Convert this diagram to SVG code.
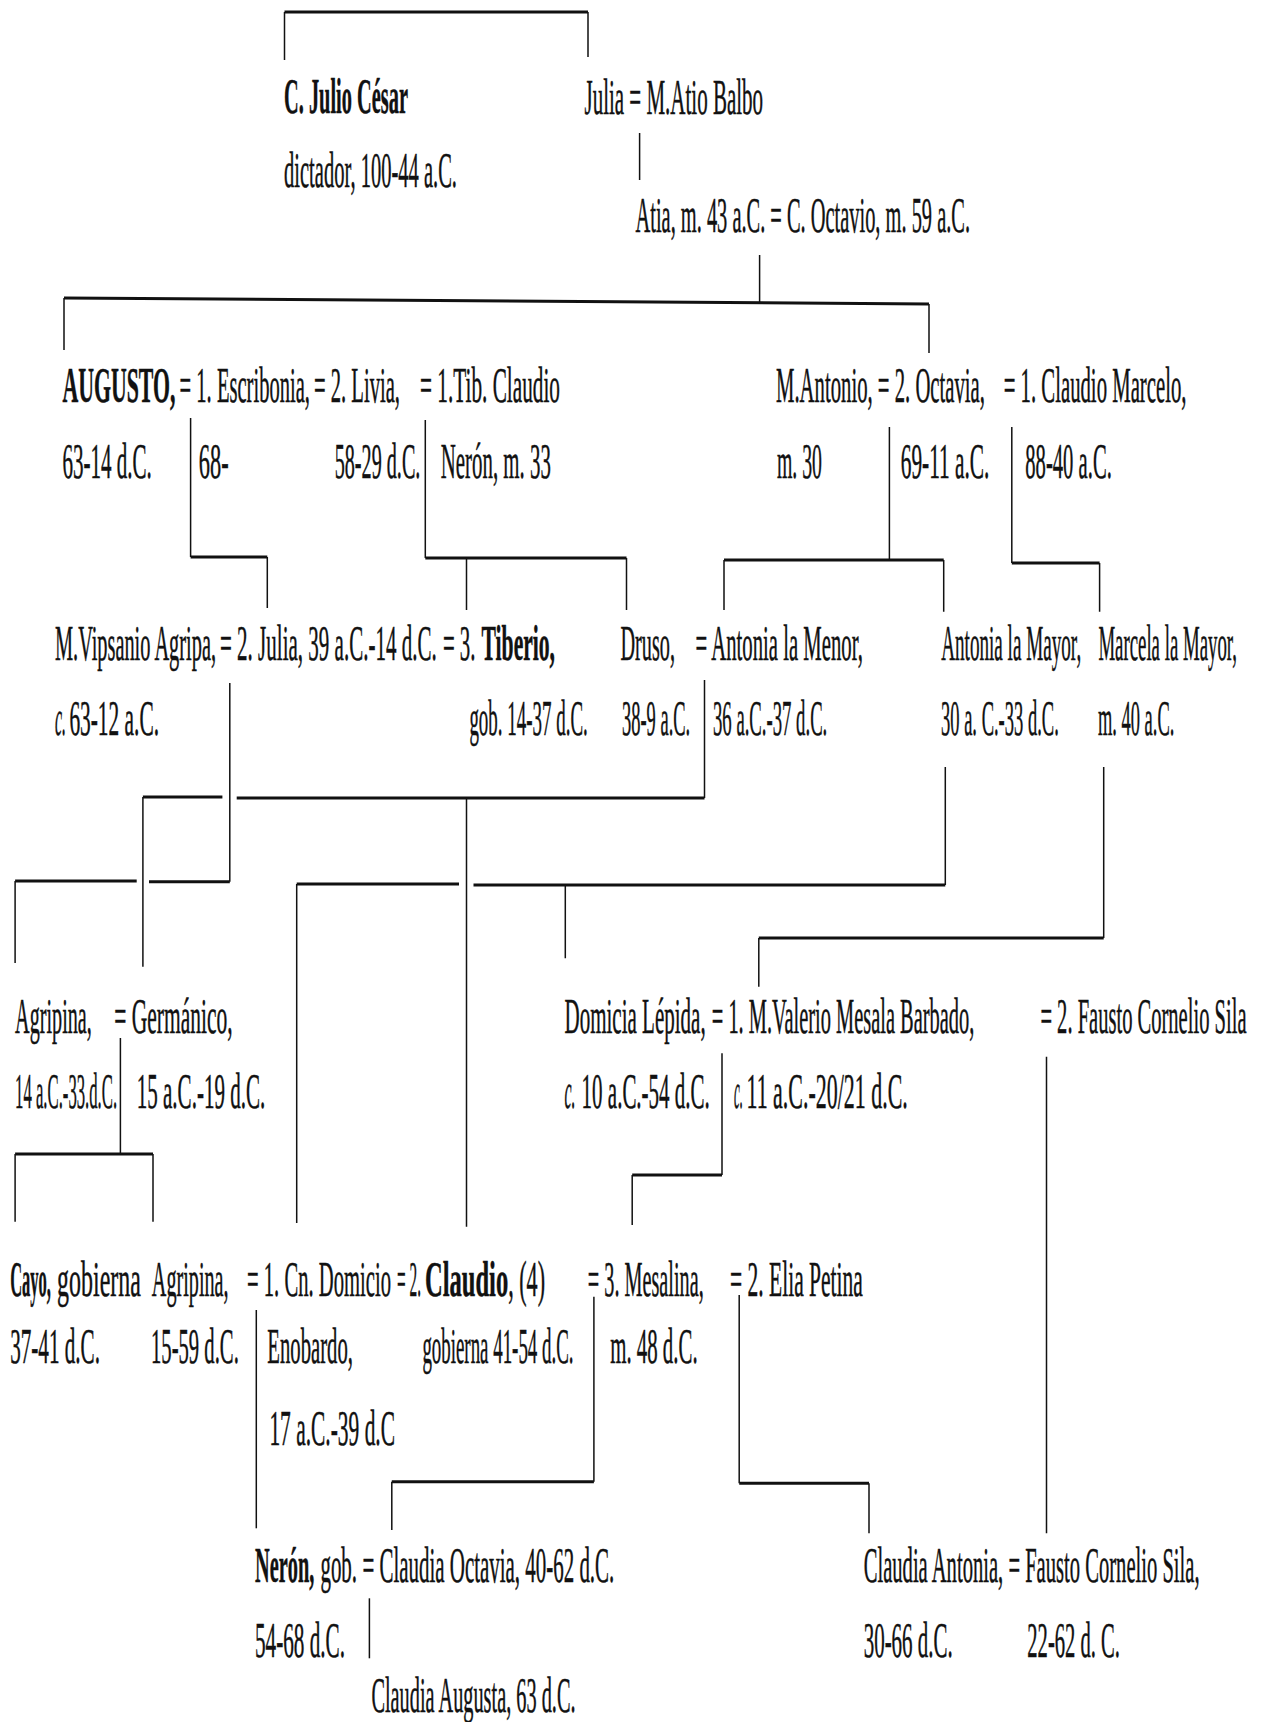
<svg xmlns="http://www.w3.org/2000/svg" width="1266" height="1722" viewBox="0 0 1266 1722">
<style>
.t{font-family:"Liberation Serif","DejaVu Serif","Times New Roman",serif;font-size:50px;fill:#111111;stroke:#111111;stroke-width:0.5}
.b{font-weight:bold}
.i{font-style:italic}
.h{stroke:#111111;stroke-width:3;fill:none}
.v{stroke:#111111;stroke-width:1.5;fill:none}
</style>
<rect width="1266" height="1722" fill="#ffffff"/>
<g id="connectors">
<path class="h" d="M284.5,12 H588"/>
<path class="v" d="M284.5,12 V60 M588,12 V57"/>
<path class="v" d="M639.6,133 V180"/>
<path class="v" d="M759.6,255 V303"/>
<path class="h" d="M64,298 L929,304"/>
<path class="v" d="M64,298 V350 M929,304 V353"/>
<path class="v" d="M190.6,418 V557 M267.3,557 V608"/>
<path class="h" d="M190.6,557 H267.3"/>
<path class="v" d="M425.3,420 V558 M466.5,558 V610 M626.5,558 V610"/>
<path class="h" d="M425.3,558 H626.5"/>
<path class="v" d="M889.4,427 V560 M724,560 V610 M943.7,560 V611.7"/>
<path class="h" d="M724,560 H943.7"/>
<path class="v" d="M1011.8,427 V563 M1099.6,563 V611.7"/>
<path class="h" d="M1011.8,563 H1099.6"/>
<path class="v" d="M229.8,683 V881.7 M15.1,881 V963"/>
<path class="h" d="M229.8,881.7 H149 M136.7,881 H15.1"/>
<path class="v" d="M704.5,680 V798 M142.9,797 V966.7 M466.5,797 V1226.7"/>
<path class="h" d="M704.5,798 H236.7 M222.4,797 H142.9"/>
<path class="v" d="M945.3,767 V885 M296.7,884 V1223 M565.3,884 V958.3"/>
<path class="h" d="M945.3,885 H473.5 M459,884 H296.7"/>
<path class="v" d="M1103.7,767 V938 M758.8,938 V986.7"/>
<path class="h" d="M1103.7,938 H758.8"/>
<path class="v" d="M120.4,1038 V1154 M15.1,1154 V1221.7 M153,1154 V1221.7"/>
<path class="h" d="M15.1,1154 H153"/>
<path class="v" d="M722,1053.3 V1175 M632.2,1175 V1225"/>
<path class="h" d="M722,1175 H632.2"/>
<path class="v" d="M1046.5,1056.7 V1533.3"/>
<path class="v" d="M256.3,1310 V1528.3"/>
<path class="v" d="M593.9,1296.7 V1481.7 M391.8,1481.7 V1530"/>
<path class="h" d="M593.9,1481.7 H391.8"/>
<path class="v" d="M739.2,1295 V1483.3 M869,1483.3 V1533.3"/>
<path class="h" d="M739.2,1483.3 H869"/>
<path class="v" d="M369.4,1598.3 V1658.3"/>
</g>
<g id="cesar">
<text class="t b" x="284" y="113" textLength="124" lengthAdjust="spacingAndGlyphs">C. Julio César</text>
<text class="t" x="284" y="187" textLength="173" lengthAdjust="spacingAndGlyphs">dictador, 100-44 a.C.</text>
</g>
<g id="julia-balbo">
<text class="t" x="584.5" y="114" textLength="178.5" lengthAdjust="spacingAndGlyphs">Julia = M.Atio Balbo</text>
</g>
<g id="atia-octavio">
<text class="t" x="635.5" y="232" textLength="334.5" lengthAdjust="spacingAndGlyphs">Atia, m. 43 a.C. = C. Octavio, m. 59 a.C.</text>
</g>
<g id="augusto">
<text class="t b" x="62.4" y="402" textLength="113" lengthAdjust="spacingAndGlyphs">AUGUSTO,</text>
<text class="t" x="62.4" y="478" textLength="89.4" lengthAdjust="spacingAndGlyphs">63-14 d.C.</text>
</g>
<g id="escribonia">
<text class="t" x="179.6" y="402" textLength="130.4" lengthAdjust="spacingAndGlyphs">= 1. Escribonia,</text>
<text class="t" x="198.8" y="478" textLength="29.8" lengthAdjust="spacingAndGlyphs">68-</text>
</g>
<g id="livia">
<text class="t" x="314" y="402" textLength="86" lengthAdjust="spacingAndGlyphs">= 2. Livia,</text>
<text class="t" x="334.7" y="478" textLength="85.7" lengthAdjust="spacingAndGlyphs">58-29 d.C.</text>
</g>
<g id="tib-claudio">
<text class="t" x="420" y="402" textLength="140" lengthAdjust="spacingAndGlyphs">= 1.Tib. Claudio</text>
<text class="t" x="440.8" y="478" textLength="110" lengthAdjust="spacingAndGlyphs">Nerón, m. 33</text>
</g>
<g id="antonio-octavia">
<text class="t" x="776" y="402" textLength="209" lengthAdjust="spacingAndGlyphs">M.Antonio, = 2. Octavia,</text>
<text class="t" x="777" y="478" textLength="45" lengthAdjust="spacingAndGlyphs">m. 30</text>
<text class="t" x="900.8" y="478" textLength="88.6" lengthAdjust="spacingAndGlyphs">69-11 a.C.</text>
</g>
<g id="marcelo">
<text class="t" x="1003.7" y="402" textLength="182.8" lengthAdjust="spacingAndGlyphs">= 1. Claudio Marcelo,</text>
<text class="t" x="1025.3" y="478" textLength="86.5" lengthAdjust="spacingAndGlyphs">88-40 a.C.</text>
</g>
<g id="agripa">
<text class="t" x="55" y="660" textLength="161" lengthAdjust="spacingAndGlyphs">M.Vipsanio Agripa,</text>
<text class="t i" x="55" y="735" textLength="11" lengthAdjust="spacingAndGlyphs">c.</text>
<text class="t" x="69.4" y="735" textLength="89.6" lengthAdjust="spacingAndGlyphs">63-12 a.C.</text>
</g>
<g id="julia">
<text class="t" x="220" y="660" textLength="216.7" lengthAdjust="spacingAndGlyphs">= 2. Julia, 39 a.C.-14 d.C.</text>
</g>
<g id="tiberio">
<text class="t" x="442.9" y="660" textLength="32.6" lengthAdjust="spacingAndGlyphs">= 3.</text>
<text class="t b" x="481.6" y="660" textLength="73.4" lengthAdjust="spacingAndGlyphs">Tiberio,</text>
<text class="t" x="469.4" y="735" textLength="118.4" lengthAdjust="spacingAndGlyphs">gob. 14-37 d.C.</text>
</g>
<g id="druso">
<text class="t" x="620.5" y="660" textLength="54.5" lengthAdjust="spacingAndGlyphs">Druso,</text>
<text class="t" x="622" y="735" textLength="68.2" lengthAdjust="spacingAndGlyphs">38-9 a.C.</text>
</g>
<g id="antonia-menor">
<text class="t" x="695.5" y="660" textLength="167.4" lengthAdjust="spacingAndGlyphs">= Antonia la Menor,</text>
<text class="t" x="713" y="735" textLength="114.3" lengthAdjust="spacingAndGlyphs">36 a.C.-37 d.C.</text>
</g>
<g id="antonia-mayor">
<text class="t" x="941.2" y="660" textLength="140" lengthAdjust="spacingAndGlyphs">Antonia la Mayor,</text>
<text class="t" x="941" y="735" textLength="117.8" lengthAdjust="spacingAndGlyphs">30 a. C.-33 d.C.</text>
</g>
<g id="marcela">
<text class="t" x="1098.4" y="660" textLength="138.6" lengthAdjust="spacingAndGlyphs">Marcela la Mayor,</text>
<text class="t" x="1098" y="735" textLength="76.3" lengthAdjust="spacingAndGlyphs">m. 40 a.C.</text>
</g>
<g id="agripina-mayor">
<text class="t" x="15.1" y="1033" textLength="76.7" lengthAdjust="spacingAndGlyphs">Agripina,</text>
<text class="t" x="15.1" y="1108" textLength="102" lengthAdjust="spacingAndGlyphs">14 a.C.-33.d.C.</text>
</g>
<g id="germanico">
<text class="t" x="114.3" y="1033" textLength="118.4" lengthAdjust="spacingAndGlyphs">= Germánico,</text>
<text class="t" x="136.7" y="1108" textLength="128.6" lengthAdjust="spacingAndGlyphs">15 a.C.-19 d.C.</text>
</g>
<g id="domicia">
<text class="t" x="564.5" y="1033" textLength="141.2" lengthAdjust="spacingAndGlyphs">Domicia Lépida,</text>
<text class="t i" x="564.5" y="1108" textLength="11" lengthAdjust="spacingAndGlyphs">c.</text>
<text class="t" x="581.6" y="1108" textLength="128.2" lengthAdjust="spacingAndGlyphs">10 a.C.-54 d.C.</text>
</g>
<g id="valerio">
<text class="t" x="711.8" y="1033" textLength="262.5" lengthAdjust="spacingAndGlyphs">= 1. M.Valerio Mesala Barbado,</text>
<text class="t i" x="734" y="1108" textLength="9" lengthAdjust="spacingAndGlyphs">c.</text>
<text class="t" x="746.5" y="1108" textLength="161.3" lengthAdjust="spacingAndGlyphs">11 a.C.-20/21 d.C.</text>
</g>
<g id="fausto-sila-1">
<text class="t" x="1040.4" y="1033" textLength="206.1" lengthAdjust="spacingAndGlyphs">= 2. Fausto Cornelio Sila</text>
</g>
<g id="cayo">
<text class="t b" x="10.2" y="1296" textLength="40.8" lengthAdjust="spacingAndGlyphs">Cayo,</text>
<text class="t" x="57.1" y="1296" textLength="83.7" lengthAdjust="spacingAndGlyphs">gobierna</text>
<text class="t" x="10.2" y="1363" textLength="89.8" lengthAdjust="spacingAndGlyphs">37-41 d.C.</text>
</g>
<g id="agripina-menor">
<text class="t" x="151.8" y="1296" textLength="76.8" lengthAdjust="spacingAndGlyphs">Agripina,</text>
<text class="t" x="151" y="1363" textLength="87.8" lengthAdjust="spacingAndGlyphs">15-59 d.C.</text>
</g>
<g id="domicio">
<text class="t" x="247" y="1296" textLength="144" lengthAdjust="spacingAndGlyphs">= 1. Cn. Domicio</text>
<text class="t" x="267.3" y="1363" textLength="85.7" lengthAdjust="spacingAndGlyphs">Enobardo,</text>
<text class="t" x="269.4" y="1445" textLength="125.6" lengthAdjust="spacingAndGlyphs">17 a.C.-39 d.C</text>
</g>
<g id="claudio">
<text class="t" x="397" y="1296" textLength="24" lengthAdjust="spacingAndGlyphs">= 2.</text>
<text class="t b" x="425" y="1296" textLength="83.2" lengthAdjust="spacingAndGlyphs">Claudio</text>
<text class="t" x="508.2" y="1296" textLength="36.8" lengthAdjust="spacingAndGlyphs">, (4)</text>
<text class="t" x="422.4" y="1363" textLength="151.1" lengthAdjust="spacingAndGlyphs">gobierna 41-54 d.C.</text>
</g>
<g id="mesalina">
<text class="t" x="587.8" y="1296" textLength="115.9" lengthAdjust="spacingAndGlyphs">= 3. Mesalina,</text>
<text class="t" x="610.2" y="1363" textLength="87.4" lengthAdjust="spacingAndGlyphs">m. 48 d.C.</text>
</g>
<g id="elia-petina">
<text class="t" x="730" y="1296" textLength="132.9" lengthAdjust="spacingAndGlyphs">= 2. Elia Petina</text>
</g>
<g id="neron">
<text class="t b" x="255.1" y="1582" textLength="59.2" lengthAdjust="spacingAndGlyphs">Nerón,</text>
<text class="t" x="320.4" y="1582" textLength="36.7" lengthAdjust="spacingAndGlyphs">gob.</text>
<text class="t" x="255" y="1657" textLength="90" lengthAdjust="spacingAndGlyphs">54-68 d.C.</text>
</g>
<g id="claudia-octavia">
<text class="t" x="362.4" y="1582" textLength="251.9" lengthAdjust="spacingAndGlyphs">= Claudia Octavia, 40-62 d.C.</text>
</g>
<g id="claudia-augusta">
<text class="t" x="371.4" y="1712" textLength="204.1" lengthAdjust="spacingAndGlyphs">Claudia Augusta, 63 d.C.</text>
</g>
<g id="claudia-antonia">
<text class="t" x="863.7" y="1582" textLength="335.9" lengthAdjust="spacingAndGlyphs">Claudia Antonia, = Fausto Cornelio Sila,</text>
<text class="t" x="863.7" y="1657" textLength="89" lengthAdjust="spacingAndGlyphs">30-66 d.C.</text>
<text class="t" x="1027.3" y="1657" textLength="92.7" lengthAdjust="spacingAndGlyphs">22-62 d. C.</text>
</g>
</svg>
